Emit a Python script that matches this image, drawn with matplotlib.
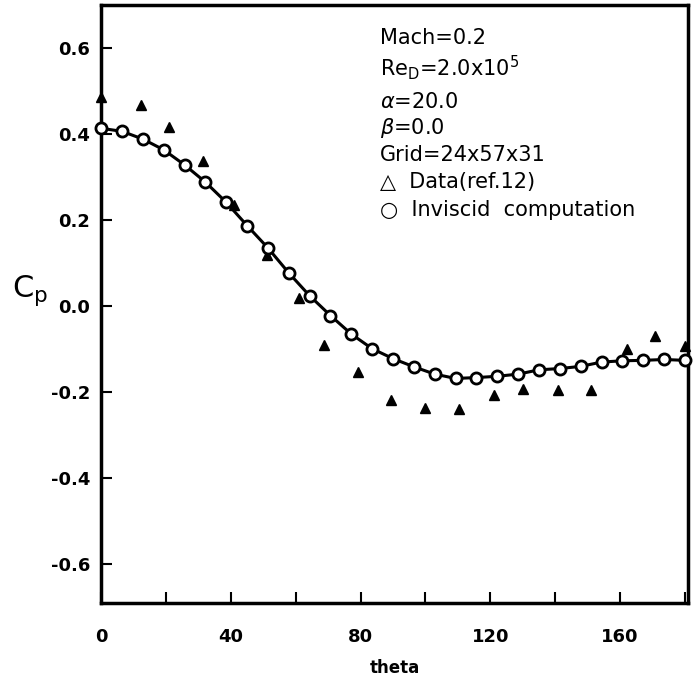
import numpy as np
import matplotlib
matplotlib.use("Agg")
import matplotlib.pyplot as plt

# inviscid computation, 29 grid points from 0 to 180 deg
theta_calc = np.linspace(0, 180, 29)
cp_calc = [0.413, 0.406, 0.388, 0.363, 0.328, 0.288, 0.241, 0.187, 0.135,
           0.077, 0.024, -0.022, -0.065, -0.099, -0.122, -0.141, -0.158,
           -0.168, -0.166, -0.163, -0.158, -0.148, -0.145, -0.140, -0.130,
           -0.127, -0.126, -0.124, -0.126]

# experimental data (ref. 12)
theta_data = [0, 12.4, 20.8, 31.3, 41.0, 51.0, 61.0, 68.6, 79.1, 89.3,
              99.8, 110.3, 121.0, 130.0, 140.8, 151.0, 162.1, 170.7, 180]
cp_data = [0.485, 0.466, 0.417, 0.336, 0.235, 0.119, 0.020, -0.090, -0.154,
           -0.219, -0.236, -0.238, -0.207, -0.193, -0.195, -0.195, -0.100,
           -0.069, -0.092]

info_lines = ["Mach=0.2", r"Re$_\mathrm{D}$=2.0x10$^5$", r"$\alpha$=20.0",
              r"$\beta$=0.0", "Grid=24x57x31", "\u25b3  Data(ref.12)",
              "\u25cb  Inviscid  computation"]

fig = plt.figure(figsize=(6.93, 6.80), dpi=100)
ax = fig.add_axes([0.146, 0.113, 0.847, 0.880])

ax.plot(theta_data, cp_data, linestyle="none", marker="^", markersize=7,
        color="black", clip_on=False, zorder=3)
ax.plot(theta_calc, cp_calc, color="black", linewidth=2.2, marker="o",
        markersize=8, markerfacecolor="white", markeredgecolor="black",
        markeredgewidth=2, clip_on=False, zorder=4)

ax.set_xlim(0, 181)
ax.set_ylim(-0.69, 0.70)
ax.set_xticks(np.arange(0, 181, 20))
ax.set_xticklabels(["0", "", "40", "", "80", "", "120", "", "160", ""])
ax.set_yticks([-0.6, -0.4, -0.2, 0.0, 0.2, 0.4, 0.6])
ax.set_yticklabels(["-0.6", "-0.4", "-0.2", "0.0", "0.2", "0.4", "0.6"])
ax.tick_params(direction="in", length=8, width=1.5, labelsize=13, pad=8)
ax.tick_params(axis="x", pad=18)
for lab in ax.get_xticklabels() + ax.get_yticklabels():
    lab.set_fontweight("bold")

for side in ["left", "bottom", "top", "right"]:
    ax.spines[side].set_linewidth(2.5)

ax.set_xlabel("theta", fontsize=12, fontweight="bold", labelpad=9)
fig.text(0.017, 0.563, r"C$_\mathrm{p}$", fontsize=22, ha="left", va="baseline")

steps = [0.945, 0.895, 0.838, 0.794, 0.749, 0.704, 0.657]
for line, ypos in zip(info_lines, steps):
    ax.text(0.475, ypos, line, transform=ax.transAxes, fontsize=15,
            va="center", ha="left")

fig.savefig("out.png", dpi=100)
